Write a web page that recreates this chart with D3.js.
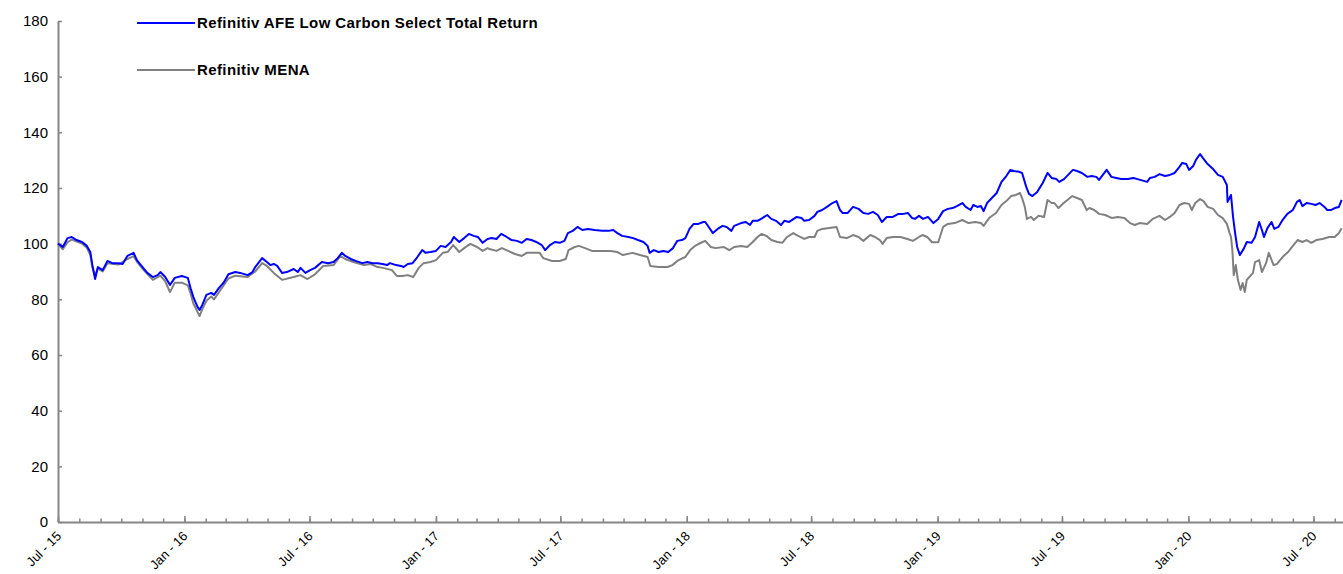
<!DOCTYPE html>
<html>
<head>
<meta charset="utf-8">
<script src="https://cdn.jsdelivr.net/npm/d3@7"></script>
<style>
  html, body { margin: 0; padding: 0; background: #fff; }
  svg { display: block; font-family: "Liberation Sans", Arial, sans-serif; }
</style>
</head>
<body>
<svg id="chart" width="1343" height="574"></svg>
<script>
// series names as shown in the legend
var seriesNames = ['Refinitiv AFE Low Carbon Select Total Return', 'Refinitiv MENA'];

// y axis tick labels
var yTicks = [0, 20, 40, 60, 80, 100, 120, 140, 160, 180];

// Refinitiv AFE Low Carbon Select Total Return
var afeDates = [
  '2015-07-01','2015-07-08','2015-07-15','2015-07-21','2015-07-28','2015-08-05','2015-08-12','2015-08-17','2015-08-20','2015-08-24',
  '2015-08-28','2015-09-04','2015-09-11','2015-09-18','2015-09-27','2015-10-03','2015-10-10','2015-10-19','2015-10-24','2015-11-01',
  '2015-11-08','2015-11-16','2015-11-23','2015-11-27','2015-12-04','2015-12-11','2015-12-18','2015-12-28','2016-01-06','2016-01-10',
  '2016-01-14','2016-01-20','2016-01-23','2016-01-27','2016-02-02','2016-02-09','2016-02-13','2016-02-20','2016-02-27','2016-03-05',
  '2016-03-15','2016-03-22','2016-04-02','2016-04-09','2016-04-13','2016-04-23','2016-04-30','2016-05-05','2016-05-10','2016-05-15',
  '2016-05-22','2016-05-29','2016-06-08','2016-06-14','2016-06-18','2016-06-25','2016-07-02','2016-07-09','2016-07-19','2016-07-28',
  '2016-08-05','2016-08-11','2016-08-17','2016-08-22','2016-08-30','2016-09-06','2016-09-16','2016-09-23','2016-10-01','2016-10-08',
  '2016-10-15','2016-10-22','2016-10-26','2016-11-04','2016-11-11','2016-11-15','2016-11-21','2016-11-28','2016-12-05','2016-12-12',
  '2016-12-17','2016-12-24','2017-01-01','2017-01-08','2017-01-15','2017-01-23','2017-01-27','2017-02-04','2017-02-11','2017-02-18',
  '2017-02-25','2017-03-03','2017-03-10','2017-03-17','2017-03-23','2017-03-30','2017-04-06','2017-04-14','2017-04-21','2017-04-29',
  '2017-05-06','2017-05-13','2017-05-20','2017-05-27','2017-06-04','2017-06-09','2017-06-16','2017-06-23','2017-06-30','2017-07-07',
  '2017-07-12','2017-07-19','2017-07-26','2017-08-02','2017-08-10','2017-08-20','2017-08-31','2017-09-09','2017-09-16','2017-09-22',
  '2017-09-29','2017-10-08','2017-10-15','2017-10-22','2017-10-30','2017-11-05','2017-11-08','2017-11-14','2017-11-21','2017-11-28',
  '2017-12-05','2017-12-12','2017-12-18','2017-12-25','2017-12-30','2018-01-05','2018-01-11','2018-01-18','2018-01-25','2018-01-28',
  '2018-02-02','2018-02-08','2018-02-15','2018-02-22','2018-02-28','2018-03-07','2018-03-11','2018-03-21','2018-03-28','2018-04-03',
  '2018-04-07','2018-04-14','2018-04-21','2018-04-28','2018-05-04','2018-05-11','2018-05-18','2018-05-23','2018-05-30','2018-06-10',
  '2018-06-17','2018-06-21','2018-06-28','2018-07-06','2018-07-10','2018-07-17','2018-07-24','2018-08-01','2018-08-07','2018-08-12',
  '2018-08-16','2018-08-23','2018-08-31','2018-09-08','2018-09-15','2018-09-22','2018-09-29','2018-10-06','2018-10-12','2018-10-19',
  '2018-10-28','2018-11-05','2018-11-12','2018-11-19','2018-11-25','2018-11-29','2018-12-05','2018-12-11','2018-12-18','2018-12-26',
  '2019-01-02','2019-01-09','2019-01-16','2019-01-23','2019-01-29','2019-02-06','2019-02-11','2019-02-18','2019-02-22','2019-02-28',
  '2019-03-05','2019-03-09','2019-03-14','2019-03-21','2019-03-28','2019-04-04','2019-04-11','2019-04-17','2019-04-22','2019-04-30',
  '2019-05-04','2019-05-10','2019-05-14','2019-05-19','2019-05-26','2019-06-03','2019-06-10','2019-06-16','2019-06-23','2019-06-27',
  '2019-07-04','2019-07-11','2019-07-17','2019-07-23','2019-07-30','2019-08-07','2019-08-13','2019-08-20','2019-08-24','2019-09-04',
  '2019-09-11','2019-09-18','2019-09-25','2019-10-05','2019-10-13','2019-10-19','2019-11-02','2019-11-06','2019-11-13','2019-11-20',
  '2019-11-28','2019-12-05','2019-12-12','2019-12-19','2019-12-23','2019-12-29','2020-01-02','2020-01-08','2020-01-12','2020-01-18',
  '2020-01-22','2020-01-29','2020-02-06','2020-02-13','2020-02-20','2020-02-26','2020-02-27','2020-03-03','2020-03-06','2020-03-09',
  '2020-03-12','2020-03-16','2020-03-22','2020-03-26','2020-04-02','2020-04-07','2020-04-13','2020-04-17','2020-04-20','2020-04-25',
  '2020-05-01','2020-05-05','2020-05-11','2020-05-17','2020-05-24','2020-06-01','2020-06-07','2020-06-11','2020-06-15','2020-06-21',
  '2020-06-28','2020-07-04','2020-07-10','2020-07-17','2020-07-21','2020-07-27','2020-08-01','2020-08-07','2020-08-11'
];
var afeValues = [
  100, 98.8, 102, 102.4, 101.3, 100.6, 99.2, 97, 92.3, 87.3,
  91.6, 90.5, 93.8, 93, 93, 92.7, 95.6, 96.7, 94, 91.6,
  89.5, 88, 88.7, 89.8, 88, 85.2, 87.7, 88.4, 87.7, 84,
  80.8, 77.3, 76.2, 78, 81.6, 82.3, 81.6, 84, 86, 89,
  89.8, 89.5, 88.7, 89.8, 91.6, 94.8, 93.4, 92.3, 92.7, 92,
  89.5, 89.8, 90.9, 89.8, 91.3, 89.5, 90.5, 91.3, 93.4, 93,
  93.4, 94.8, 96.7, 95.6, 94.5, 93.8, 93, 93.4, 93, 93,
  92.7, 92.3, 93, 92.3, 92, 91.6, 92.7, 93, 95.2, 97.7,
  96.7, 97, 97.4, 99.2, 98.8, 100.6, 102.4, 100.6, 102, 103.5,
  102.8, 102.4, 100.3, 101.7, 102, 101.7, 103.5, 102.4, 101.3, 101,
  100.3, 101.7, 101.3, 100.6, 99.5, 97.7, 99.5, 100.6, 100.3, 101,
  103.8, 104.6, 106, 104.9, 105.3, 104.9, 104.6, 104.6, 104.9, 103.8,
  102.8, 102.4, 102, 101.3, 100.6, 99.2, 96.7, 97.7, 97, 97.4,
  97, 98.4, 101, 101.3, 102, 105.3, 107.1, 107.1, 107.8, 107.8,
  106, 103.8, 105.3, 106.4, 106, 104.6, 106.4, 107.4, 107.8, 106.7,
  108.2, 108.2, 109.2, 110.3, 108.9, 108.2, 106.7, 108.2, 107.8, 109.6,
  109.2, 108.2, 108.5, 110, 111.4, 112.1, 113.2, 114.6, 115.3, 112.1,
  111, 111, 113.2, 112.5, 111, 110.7, 111.4, 110.3, 107.8, 109.6,
  109.6, 110.7, 110.7, 111, 109.2, 108.9, 110, 108.9, 109.6, 107.4,
  108.9, 111.7, 112.5, 112.8, 113.5, 114.6, 113.2, 112.1, 113.9, 113.2,
  113.5, 111.7, 114.6, 116.4, 118.2, 122.2, 124.3, 126.5, 126.1, 125.8,
  125.4, 120.4, 117.9, 117.1, 118.6, 121.8, 125.4, 123.6, 123.2, 122.2,
  123.2, 125, 126.5, 126.1, 125.4, 124, 124.3, 124, 122.9, 126.5,
  124, 123.6, 123.2, 123.2, 123.6, 123.2, 122.2, 123.6, 124, 125,
  124.3, 124.7, 125.4, 127.6, 129, 128.6, 126.5, 127.9, 130.1, 132.2,
  130.8, 128.6, 126.8, 124.7, 124, 121.1, 115, 117.5, 109.6, 103.8,
  98.8, 95.9, 98.4, 100.6, 100.3, 102.4, 107.8, 104.9, 102.4, 105.6,
  107.8, 105.3, 106, 108.5, 110.7, 112.1, 115, 115.7, 113.5, 114.6,
  114.3, 113.9, 114.6, 113.2, 112.1, 112.1, 112.8, 113.2, 115.7
];

// Refinitiv MENA
var menaDates = [
  '2015-07-01','2015-07-08','2015-07-15','2015-07-21','2015-08-05','2015-08-12','2015-08-17','2015-08-20','2015-08-24','2015-08-28',
  '2015-09-04','2015-09-11','2015-09-27','2015-10-10','2015-10-19','2015-10-24','2015-11-01','2015-11-16','2015-11-27','2015-12-04',
  '2015-12-11','2015-12-18','2015-12-28','2016-01-06','2016-01-10','2016-01-14','2016-01-20','2016-01-23','2016-01-27','2016-02-02',
  '2016-02-09','2016-02-13','2016-02-20','2016-02-27','2016-03-05','2016-03-15','2016-04-02','2016-04-13','2016-04-23','2016-04-30',
  '2016-05-10','2016-05-22','2016-06-08','2016-06-18','2016-06-28','2016-07-09','2016-07-21','2016-08-05','2016-08-15','2016-08-22',
  '2016-09-03','2016-09-18','2016-09-28','2016-10-08','2016-10-16','2016-10-29','2016-11-05','2016-11-13','2016-11-21','2016-11-29',
  '2016-12-07','2016-12-14','2016-12-24','2017-01-01','2017-01-11','2017-01-18','2017-01-26','2017-02-04','2017-02-11','2017-02-20',
  '2017-03-02','2017-03-10','2017-03-17','2017-03-20','2017-03-30','2017-04-07','2017-04-16','2017-04-26','2017-05-06','2017-05-13',
  '2017-05-24','2017-06-01','2017-06-06','2017-06-19','2017-06-30','2017-07-09','2017-07-13','2017-07-22','2017-07-28','2017-08-06',
  '2017-08-16','2017-08-31','2017-09-12','2017-09-22','2017-09-30','2017-10-14','2017-10-25','2017-11-05','2017-11-09','2017-11-21',
  '2017-12-04','2017-12-11','2017-12-20','2017-12-30','2018-01-06','2018-01-13','2018-01-24','2018-01-28','2018-02-05','2018-02-12',
  '2018-02-24','2018-03-04','2018-03-11','2018-03-21','2018-03-30','2018-04-07','2018-04-14','2018-04-20','2018-04-27','2018-05-04',
  '2018-05-13','2018-05-20','2018-05-27','2018-06-05','2018-06-12','2018-06-21','2018-06-28','2018-07-06','2018-07-10','2018-07-17',
  '2018-07-27','2018-08-07','2018-08-12','2018-08-22','2018-08-31','2018-09-08','2018-09-15','2018-09-25','2018-10-02','2018-10-09',
  '2018-10-13','2018-10-19','2018-10-28','2018-11-08','2018-11-18','2018-11-26','2018-12-05','2018-12-10','2018-12-17','2018-12-24',
  '2019-01-02','2019-01-09','2019-01-16','2019-01-26','2019-02-06','2019-02-15','2019-02-25','2019-03-05','2019-03-09','2019-03-17',
  '2019-03-27','2019-04-04','2019-04-11','2019-04-18','2019-04-25','2019-05-01','2019-05-04','2019-05-08','2019-05-11','2019-05-17',
  '2019-05-21','2019-05-28','2019-06-05','2019-06-10','2019-06-16','2019-06-20','2019-06-26','2019-07-02','2019-07-09','2019-07-16',
  '2019-07-23','2019-07-30','2019-08-06','2019-08-10','2019-08-17','2019-08-24','2019-09-02','2019-09-12','2019-09-20','2019-09-30',
  '2019-10-08','2019-10-15','2019-10-22','2019-11-02','2019-11-10','2019-11-20','2019-11-28','2019-12-05','2019-12-12','2019-12-19',
  '2019-12-26','2020-01-02','2020-01-06','2020-01-11','2020-01-18','2020-01-23','2020-01-29','2020-02-06','2020-02-13','2020-02-20',
  '2020-02-26','2020-03-01','2020-03-03','2020-03-05','2020-03-07','2020-03-10','2020-03-13','2020-03-17','2020-03-20','2020-03-23',
  '2020-03-26','2020-04-04','2020-04-07','2020-04-13','2020-04-17','2020-04-23','2020-04-27','2020-05-04','2020-05-09','2020-05-17',
  '2020-05-25','2020-06-01','2020-06-08','2020-06-15','2020-06-21','2020-06-28','2020-07-05','2020-07-14','2020-07-24','2020-08-01',
  '2020-08-07','2020-08-11'
];
var menaValues = [
  100, 98, 100.5, 101.5, 100, 98.5, 96, 91.5, 88.5, 91,
  90, 93, 92.5, 94.5, 95.5, 93.5, 91, 87, 88.5, 86.5,
  82.6, 86, 86, 85, 82, 78.5, 75.5, 74, 76.5, 79.5,
  81, 80, 82.5, 85, 87.5, 88.5, 88, 90, 93, 92,
  89.5, 87, 88, 88.7, 87.3, 89, 92, 92.3, 95.6, 94.5,
  93.4, 92.3, 92.7, 91.6, 91.3, 90.5, 88.4, 88.4, 88.7, 88,
  91.3, 93, 93.4, 94.1, 96.7, 97, 99.5, 97, 98.4, 99.9,
  98.8, 97.4, 98.4, 98.1, 97.4, 98.4, 97.4, 96.3, 95.6, 96.7,
  96.7, 96.7, 94.8, 93.8, 93.8, 94.5, 97.7, 98.8, 99.2, 98.4,
  97.4, 97.4, 97.4, 97, 95.9, 96.7, 95.9, 95.2, 92, 91.6,
  91.6, 92.3, 94.1, 95.2, 97.7, 99.2, 100.6, 101, 98.8, 98.4,
  98.8, 97.7, 98.8, 99.2, 98.8, 100.6, 102.4, 103.5, 102.8, 101.3,
  100.6, 100.3, 102.4, 103.8, 102.8, 101.7, 102.4, 102.4, 104.6, 105.3,
  105.6, 106, 102.4, 102, 103.1, 102.4, 101, 103.1, 102.4, 101.3,
  99.9, 102, 102.4, 102.4, 101.7, 101, 102.4, 103.1, 102.4, 100.5,
  100.5, 106, 107.1, 107.4, 108.5, 107.4, 107.8, 107.4, 106.4, 109.2,
  111, 113.9, 115.3, 117.1, 117.5, 118.2, 116.4, 113.2, 108.9, 109.6,
  108.5, 110, 109.6, 115.7, 114.6, 114.6, 112.8, 114.3, 115.7, 117.1,
  116.4, 115.7, 112.1, 112.8, 112.1, 110.7, 110.3, 109.2, 109.6, 109.2,
  107.4, 106.7, 107.4, 107.1, 108.9, 110, 108.5, 109.6, 111, 113.9,
  114.6, 114.3, 112.1, 114.6, 116, 115.3, 113.2, 112.5, 110.3, 109.2,
  107.1, 103.8, 102.4, 97.7, 88.7, 92.3, 87, 83.4, 85.9, 82.6,
  87, 89.5, 93.4, 94.1, 89.8, 93, 96.7, 92.3, 92.7, 95.2,
  97, 99.2, 101.3, 100.6, 101.3, 100.3, 101.3, 101.7, 102.4, 102.4,
  103.8, 105.5
];

var colors = ['#0000ff', '#808080'];

var svg = d3.select('#chart');
var parseDate = d3.timeParse('%Y-%m-%d');
var axisColor = '#868686';

var x = d3.scaleTime()
  .domain([new Date(2015, 6, 1), new Date(2020, 7, 13)])
  .range([58, 1343]);

var y = d3.scaleLinear()
  .domain([0, 180])
  .range([522, 21]);

function toPoints(dates, values) {
  return dates.map(function(d, i) { return {date: parseDate(d), value: values[i]}; });
}

var series = [
  toPoints(afeDates, afeValues),
  toPoints(menaDates, menaValues)
];

///////////////////////////////////////////////////////////////////////////////
// AXES

// y axis, ticks point into the plot, labels on the left
var yAxis = svg.append('g')
  .attr('transform', 'translate(58,0)')
  .call(d3.axisLeft(y).tickValues(yTicks).tickSizeInner(-4).tickSizeOuter(0).tickPadding(10));

// x axis: minor tick every month, major tick every 6 months
var xMinor = svg.append('g')
  .attr('transform', 'translate(0,522)')
  .call(d3.axisBottom(x).ticks(d3.timeMonth.every(1)).tickSizeInner(-3.5).tickSizeOuter(0).tickFormat(''));

var majorTicks = x.ticks(d3.timeMonth.every(6));
var xMajor = svg.append('g')
  .attr('transform', 'translate(0,522)')
  .call(d3.axisBottom(x).tickValues(majorTicks).tickSizeInner(-6).tickSizeOuter(0).tickFormat(''));
xMajor.select('.domain').remove();

[yAxis, xMinor, xMajor].forEach(function(g) {
  g.select('.domain').attr('stroke', axisColor).attr('stroke-width', 2);
  g.selectAll('.tick line').attr('stroke', axisColor).attr('stroke-width', 1.5);
});
yAxis.selectAll('.tick text')
  .attr('fill', '#000')
  .style('font-size', '15px')
  .style('font-family', '"Liberation Sans", Arial, sans-serif');

// rotated month labels
var fmt = d3.timeFormat('%b - %y');
svg.append('g')
  .selectAll('text')
  .data(majorTicks)
  .enter()
  .append('text')
  .attr('transform', function(d) { return 'translate(' + (x(d) + 4) + ',537) rotate(-45)'; })
  .attr('text-anchor', 'end')
  .style('font-size', '13px')
  .attr('fill', '#000')
  .text(fmt);

///////////////////////////////////////////////////////////////////////////////
// LINES

var line = d3.line()
  .x(function(d) { return x(d.date); })
  .y(function(d) { return y(d.value); });

// draw MENA first so the blue line sits on top
[1, 0].forEach(function(i) {
  svg.append('path')
    .datum(series[i])
    .attr('d', line)
    .attr('fill', 'none')
    .attr('stroke', colors[i])
    .attr('stroke-width', 2)
    .attr('stroke-linejoin', 'round');
});

///////////////////////////////////////////////////////////////////////////////
// LEGEND

var legend = svg.append('g')
  .selectAll('g')
  .data(seriesNames)
  .enter()
  .append('g')
  .attr('transform', function(d, i) { return 'translate(137,' + (23 + i * 47) + ')'; });

legend.append('line')
  .attr('x1', 0)
  .attr('x2', 58)
  .attr('stroke', function(d, i) { return colors[i]; })
  .attr('stroke-width', 2);

legend.append('text')
  .attr('x', 60)
  .attr('dy', '0.35em')
  .style('font-size', '15px')
  .style('letter-spacing', '0.4px')
  .style('font-weight', 'bold')
  .attr('fill', '#000')
  .text(function(d) { return d; });
</script>
</body>
</html>
